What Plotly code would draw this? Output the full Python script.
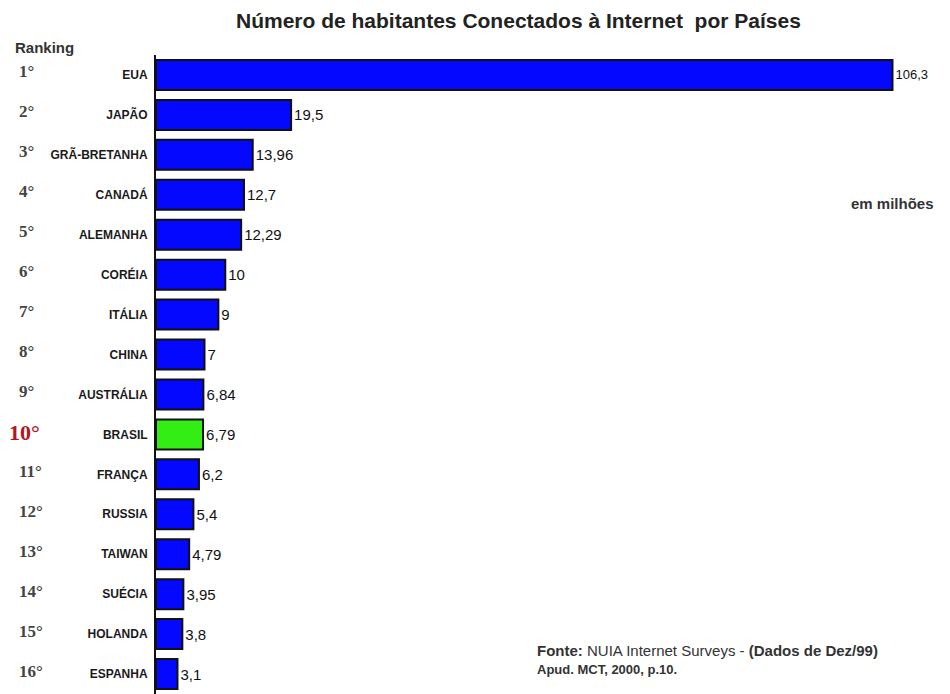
import plotly.graph_objects as go

# Internet users by country, Dec/1999 (millions)
rankings = ["1°", "2°", "3°", "4°", "5°", "6°", "7°", "8°", "9°", "10°",
            "11°", "12°", "13°", "14°", "15°", "16°"]
countries = ["EUA", "JAPÃO", "GRÃ-BRETANHA", "CANADÁ", "ALEMANHA", "CORÉIA",
             "ITÁLIA", "CHINA", "AUSTRÁLIA", "BRASIL", "FRANÇA", "RUSSIA",
             "TAIWAN", "SUÉCIA", "HOLANDA", "ESPANHA"]
users_millions = [106.3, 19.5, 13.96, 12.7, 12.29, 10, 9, 7, 6.84, 6.79,
                  6.2, 5.4, 4.79, 3.95, 3.8, 3.1]
highlight = "BRASIL"

BLUE = "#0508ff"
GREEN = "#33ee14"
INK = "#222222"
SANS = "Liberation Sans, Arial, sans-serif"
SERIF = "Liberation Serif, Times New Roman, serif"

bar_colors = [GREEN if c == highlight else BLUE for c in countries]
value_text = [f"{v:g}".replace(".", ",") for v in users_millions]
text_sizes = [13 if v > 100 else 15 for v in users_millions]

fig = go.Figure()
fig.add_trace(go.Bar(
    x=users_millions,
    y=countries,
    orientation="h",
    marker=dict(color=bar_colors, line=dict(color="#111111", width=2)),
    text=value_text,
    textposition="outside",
    textfont=dict(family=SANS, size=text_sizes, color="#111111"),
    cliponaxis=False,
    hoverinfo="skip",
))

# ranking numbers in the left column
for rank, country in zip(rankings, countries):
    is_hl = country == highlight
    fig.add_annotation(
        x=0.007 if is_hl else 0.018, xref="paper", xanchor="left",
        y=country, yref="y", yanchor="middle", yshift=2 if is_hl else 3,
        text=f"<b>{rank}</b>",
        showarrow=False,
        font=dict(family=SERIF, size=22 if is_hl else 17,
                  color="#b3171b" if is_hl else "#444444"),
    )

fig.add_annotation(
    x=0.014, xref="paper", xanchor="left", y=47, yref="paper",
    text="<b>Ranking</b>", showarrow=False,
    font=dict(family=SANS, size=15, color="#333333"),
)
fig.add_annotation(
    x=0.546, xref="paper", xanchor="center", y=21, yref="paper",
    text="<b>Número de habitantes Conectados à Internet  por Países</b>", showarrow=False,
    font=dict(family=SANS, size=21, color=INK),
)
fig.add_annotation(
    x=0.985, xref="paper", xanchor="right", y=203, yref="paper",
    text="<b>em milhões</b>", showarrow=False,
    font=dict(family=SANS, size=15, color="#333333"),
)
fig.add_annotation(
    x=0.563, xref="paper", xanchor="left", y=650, yref="paper",
    text="<b>Fonte:</b> NUIA Internet Surveys - <b>(Dados de Dez/99)</b>", showarrow=False,
    font=dict(family=SANS, size=15, color="#333333"),
)
fig.add_annotation(
    x=0.563, xref="paper", xanchor="left", y=669, yref="paper",
    text="<b>Apud. MCT, 2000, p.10.</b>", showarrow=False,
    font=dict(family=SANS, size=13, color="#333333"),
)

W, H = 950, 694
L, T = 156, 55

# annotations above were placed in pixel coordinates; convert to paper units
for a in fig.layout.annotations:
    if a.yref == "paper":
        a.y = 1 - (a.y - T) / (H - T)
        a.yanchor = "middle"
    if a.xref == "paper":
        a.x = (a.x * W - L) / (W - L)

fig.update_layout(
    width=W, height=H,
    margin=dict(l=L, r=0, t=T, b=0),
    paper_bgcolor="white", plot_bgcolor="white",
    showlegend=False,
    bargap=0.25,
    xaxis=dict(range=[0, 114.6], visible=False, showgrid=False, zeroline=False),
    yaxis=dict(
        autorange="reversed",
        showline=True, linecolor="#111111", linewidth=2,
        showgrid=False, zeroline=False, ticks="",
        ticklabelstandoff=4,
        tickfont=dict(family=SANS, size=12, weight="bold", color="#1a1a1a"),
    ),
)

fig.write_html("out.html", config={"displayModeBar": False})
